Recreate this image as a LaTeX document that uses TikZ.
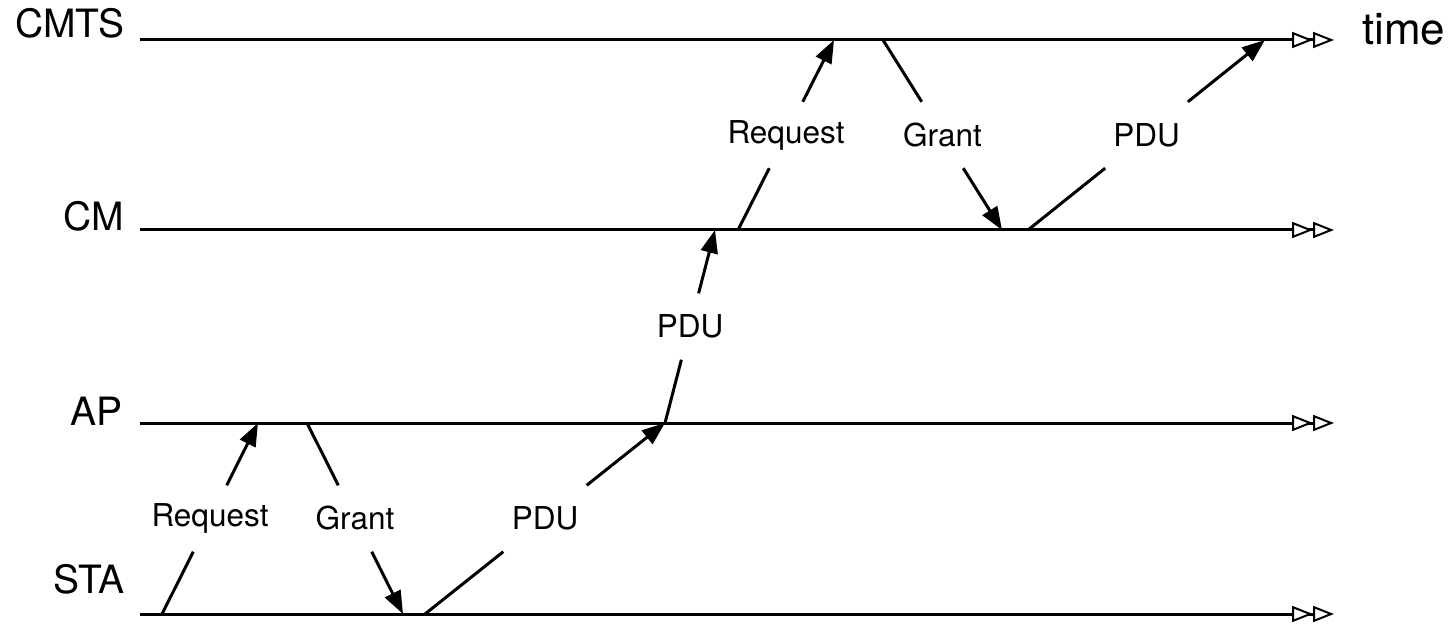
\documentclass[tikz,border=0pt]{standalone}
\usepackage{fontspec}
\setmainfont{TeX Gyre Heros}
\usetikzlibrary{arrows.meta,calc}
\begin{document}
\begin{tikzpicture}[x=1pt,y=-1pt,
  timeline/.style={line width=3pt, -{Triangle[open,length=21pt,width=16pt,line width=2pt,fill=white]Triangle[open,length=21pt,width=16pt,line width=2pt,fill=white]}},
  proc/.style={anchor=base east, font=\fontsize{39pt}{42pt}\selectfont, inner sep=0pt},
  msglabel/.style={font=\fontsize{31.5pt}{34pt}\selectfont, inner xsep=15pt, inner ysep=0pt, minimum height=66pt},
  msgline/.style={line width=3pt},
  msgarrow/.style={line width=3pt, -{Triangle[length=23pt,width=17pt]}}]
\useasboundingbox (0,0) rectangle (1452,631);

% process labels
\node[proc] (lcmts) at (125,38) {CMTS};
\node[proc] (lcm) at (124,231) {CM};
\node[proc] (lap) at (123,425) {AP};
\node[proc] (lsta) at (125,593) {STA};
\node[anchor=base west, font=\fontsize{44pt}{48pt}\selectfont, inner sep=0pt] (time) at (1362,45) {time};

% timelines
\coordinate (cmtsS) at (140,40);  \coordinate (cmtsE) at (1334,40);
\coordinate (cmS) at (140,230);   \coordinate (cmE) at (1334,230);
\coordinate (apS) at (140,423);   \coordinate (apE) at (1334,423);
\coordinate (staS) at (140,614);  \coordinate (staE) at (1334,614);
\draw[timeline] (cmtsS) -- (cmtsE);
\draw[timeline] (cmS) -- (cmE);
\draw[timeline] (apS) -- (apE);
\draw[timeline] (staS) -- (staE);

% event points
\coordinate (s1) at (162,614);
\coordinate (a1) at (258,423);
\coordinate (a2) at (307,423);
\coordinate (s2) at (403,614);
\coordinate (s3) at (425,614);
\coordinate (a3) at (665,423);
\coordinate (c1) at (715,230);
\coordinate (c2) at (738,230);
\coordinate (t1) at (834,40);
\coordinate (t2) at (883,40);
\coordinate (c3) at (1002,230);
\coordinate (c4) at (1028,230);
\coordinate (t3) at (1265,40);

% message labels
\node[msglabel] (m1) at ($(s1)!0.5!(a1)$) {Request};
\node[msglabel] (m2) at ($(a2)!0.5!(s2)$) {Grant};
\node[msglabel] (m3) at ($(s3)!0.5!(a3)$) {PDU};
\node[msglabel] (m4) at ($(a3)!0.5!(c1)$) {PDU};
\node[msglabel] (m5) at ($(c2)!0.5!(t1)$) {Request};
\node[msglabel] (m6) at ($(t2)!0.5!(c3)$) {Grant};
\node[msglabel] (m7) at ($(c4)!0.5!(t3)$) {PDU};

% messages
\draw[msgline] (s1) -- (m1);  \draw[msgarrow] (m1) -- (a1);
\draw[msgline] (a2) -- (m2);  \draw[msgarrow] (m2) -- (s2);
\draw[msgline] (s3) -- (m3);  \draw[msgarrow] (m3) -- (a3);
\draw[msgline] (a3) -- (m4);  \draw[msgarrow] (m4) -- (c1);
\draw[msgline] (c2) -- (m5);  \draw[msgarrow] (m5) -- (t1);
\draw[msgline] (t2) -- (m6);  \draw[msgarrow] (m6) -- (c3);
\draw[msgline] (c4) -- (m7);  \draw[msgarrow] (m7) -- (t3);
\end{tikzpicture}
\end{document}
